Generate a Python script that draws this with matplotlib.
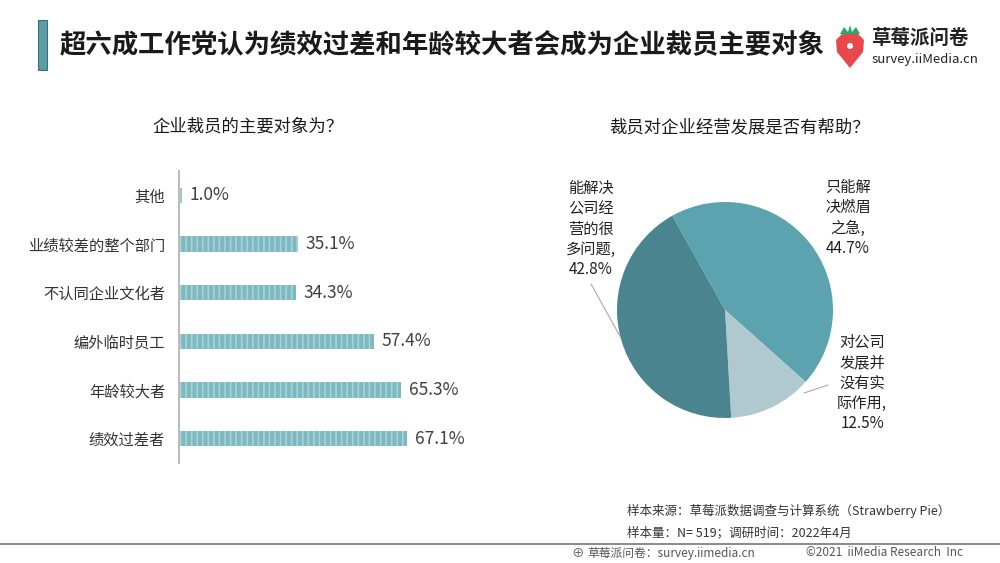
import matplotlib
matplotlib.use('Agg')
import matplotlib.pyplot as plt
from matplotlib.patches import Rectangle, Ellipse, Polygon

plt.rcParams['font.family'] = ['Noto Sans CJK SC', 'DejaVu Sans']
plt.rcParams['hatch.linewidth'] = 1.2

# data
bar_cats = ['其他', '业绩较差的整个部门', '不认同企业文化者', '编外临时员工', '年龄较大者', '绩效过差者']
bar_vals = [1.0, 35.1, 34.3, 57.4, 65.3, 67.1]

pie_labels = ['只能解\n决燃眉\n之急,\n44.7%', '对公司\n发展并\n没有实\n际作用,\n12.5%', '能解决\n公司经\n营的很\n多问题,\n42.8%']
pie_vals = [44.7, 12.5, 42.8]
pie_colors = ['#5BA3AF', '#B0C9CF', '#4A858F']

W, H = 1000, 563
fig = plt.figure(figsize=(10, 5.63), dpi=100)


def fbox(x0, y0, x1, y1):
    # pixel box (top-left origin) -> figure fraction rect
    return [x0 / W, 1 - y1 / H, (x1 - x0) / W, (y1 - y0) / H]


# title bar + title
fig.patches.append(Rectangle((38 / W, 1 - 70 / H), 9 / W, 50 / H, transform=fig.transFigure,
                             facecolor='#5B9EA6', edgecolor='#3d6e74', lw=0.8))
fig.text(60 / W, 1 - 45 / H, '超六成工作党认为绩效过差和年龄较大者会成为企业裁员主要对象',
         fontsize=19, fontweight='bold', color='#1a1a1a', va='center', ha='left')

# logo
lax = fig.add_axes(fbox(832, 22, 868, 72))
lax.set_xlim(0, 36)
lax.set_ylim(50, 0)
lax.axis('off')
lax.add_patch(Polygon([(4, 18), (10, 12), (26, 12), (32, 18), (31, 30), (18, 46), (5, 30)],
                      closed=True, facecolor='#E8474C', edgecolor='none'))
lax.add_patch(Polygon([(8, 12), (12, 5), (16, 10), (18, 3), (20, 10), (24, 5), (28, 12)],
                      closed=True, facecolor='#2BA86A', edgecolor='none'))
lax.add_patch(Ellipse((18, 24), 6, 6, facecolor='white', edgecolor='none'))
fig.text(872 / W, 1 - 38 / H, '草莓派问卷', fontsize=14, fontweight='bold', color='#222222', va='center')
fig.text(872 / W, 1 - 60 / H, 'survey.iiMedia.cn', fontsize=9.5, color='#222222', va='center')

# subtitles
fig.text(248 / W, 1 - 127 / H, '企业裁员的主要对象为？', fontsize=12.5, color='#1a1a1a', ha='center', va='center')
fig.text(740 / W, 1 - 127 / H, '裁员对企业经营发展是否有帮助？', fontsize=12.5, color='#1a1a1a', ha='center', va='center')

# bar chart
ax = fig.add_axes(fbox(179, 171, 479, 463))
ypos = list(range(len(bar_cats)))
ax.barh(ypos, bar_vals, height=0.31, color='#7DB9C1', edgecolor='#A8D2D7', linewidth=0, hatch='|||')
ax.set_xlim(0, 300 / 3.4)
ax.set_ylim(len(bar_cats) - 0.5, -0.5)
ax.set_yticks(ypos)
ax.set_yticklabels(bar_cats, fontsize=11, color='#333333')
ax.tick_params(axis='y', length=0, pad=10)
ax.set_xticks([])
for s in ['top', 'right', 'bottom']:
    ax.spines[s].set_visible(False)
ax.spines['left'].set_color('#BBBBBB')
ax.spines['left'].set_linewidth(1.5)
for y, v in zip(ypos, bar_vals):
    ax.text(v + 2.2, y, f'{v:.1f}%', va='center', ha='left', fontsize=12.5, color='#404040')

# pie chart
pax = fig.add_axes(fbox(617, 202, 833, 418))
pax.pie(pie_vals, colors=pie_colors, startangle=119.2, counterclock=False,
        wedgeprops=dict(linewidth=0))
pax.set_xlim(-1, 1)
pax.set_ylim(-1, 1)
pax.set_aspect('equal')

txt_kw = dict(fontsize=11, color='#222222', ha='center', va='center', linespacing=1.25)
fig.text(848 / W, 1 - 218 / H, pie_labels[0], **txt_kw)
fig.text(862 / W, 1 - 383 / H, pie_labels[1], **txt_kw)
fig.text(591 / W, 1 - 229 / H, pie_labels[2], **txt_kw)
fig.add_artist(plt.Line2D([591 / W, 621 / W], [1 - 284 / H, 1 - 338 / H], color='#AAAAAA', lw=0.8))
fig.add_artist(plt.Line2D([828 / W, 804 / W], [1 - 385 / H, 1 - 393 / H], color='#AAAAAA', lw=0.8))

# sources
fig.text(627 / W, 1 - 511 / H, '样本来源：草莓派数据调查与计算系统（Strawberry Pie）', fontsize=9, color='#333333', va='center')
fig.text(627 / W, 1 - 533 / H, '样本量：N= 519；调研时间：2022年4月', fontsize=9, color='#333333', va='center')
fig.add_artist(plt.Line2D([0, 1], [1 - 544 / H, 1 - 544 / H], color='#777777', lw=1.2))
fig.text(587 / W, 1 - 553 / H, '草莓派问卷：survey.iimedia.cn', fontsize=8.5, color='#555555', va='center')
fig.text(571 / W, 1 - 553 / H, '⊕', fontsize=9, color='#555555', va='center')
fig.text(806 / W, 1 - 553 / H, '©2021  iiMedia Research  Inc', fontsize=8.5, color='#555555', va='center')

fig.savefig('out.png', dpi=100)
